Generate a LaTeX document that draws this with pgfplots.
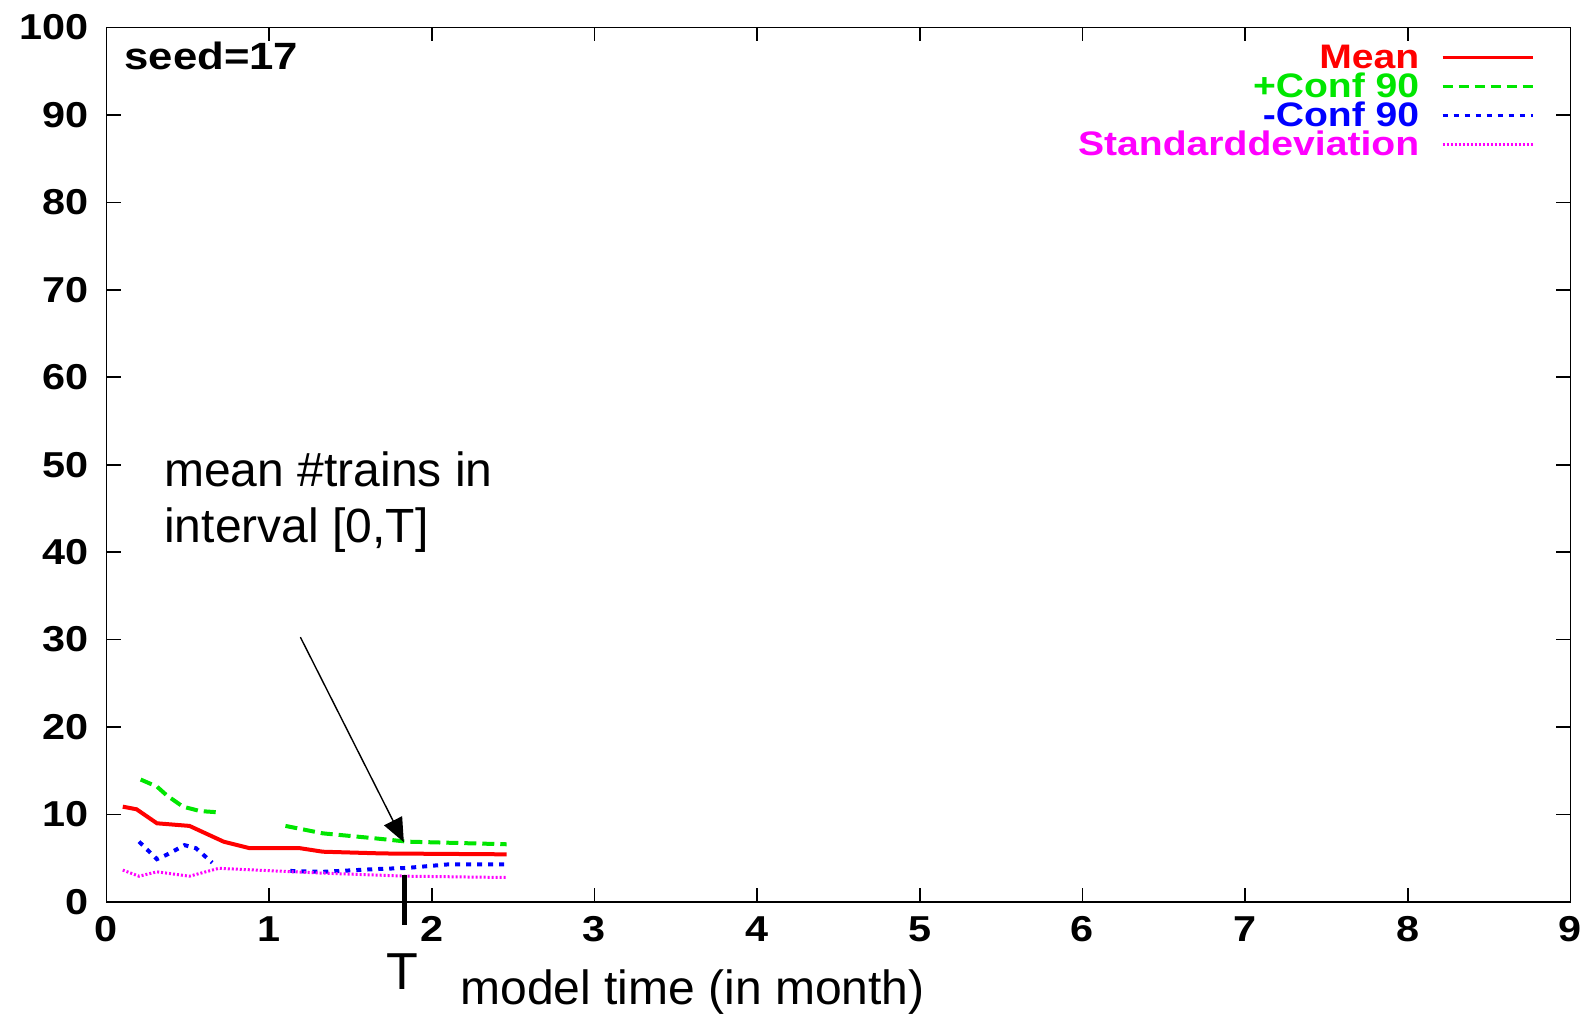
\documentclass[border=0pt]{standalone}
\usepackage{fontspec}
\setmainfont{Liberation Sans}
\newfontfamily\gpfont[FakeStretch=1.15]{Liberation Sans}
\usepackage{pgfplots}
\pgfplotsset{compat=1.18}
\usetikzlibrary{arrows.meta}

\definecolor{gpred}{RGB}{255,0,0}
\definecolor{gpgreen}{RGB}{0,230,0}
\definecolor{gpblue}{RGB}{0,0,255}
\definecolor{gpmagenta}{RGB}{255,0,255}

\newcommand{\gpfnt}{\gpfont\bfseries\fontsize{18}{18}\selectfont}
\newcommand{\legfnt}{\gpfont\bfseries\fontsize{17}{17}\selectfont}

\begin{document}
\begin{tikzpicture}
\path[use as bounding box] (-53.25pt,-55.5pt) rectangle (742.25pt,451pt);
\begin{axis}[
  scale only axis,
  width=732pt, height=437.3pt,
  xmin=0, xmax=9, ymin=0, ymax=100,
  xtick={0,1,...,9},
  ytick={0,10,...,100},
  tick align=inside,
  major tick length=7pt,
  axis line style={line width=0.8pt},
  every tick/.style={black, line width=0.8pt},
  /pgf/number format/assume math mode=true,
  tick label style={font=\gpfnt, inner sep=0pt},
  x tick label style={anchor=north, yshift=-7pt},
  y tick label style={anchor=east, xshift=-8.7pt},
  clip=false,
  unbounded coords=jump,
  legend cell align=right,
  legend plot pos=right,
  legend style={draw=none, fill=none, at={(0.9755,0.9870)}, anchor=north east,
    inner sep=0pt, column sep=11pt, row sep=0pt, font=\legfnt,
    nodes={inner sep=0pt, text height=14.5pt, text depth=0pt}},
]
\addplot[gpred, line width=2pt,
  legend image code/.code={\draw[gpred, line width=1.5pt] (0pt,-2pt) -- (45pt,-2pt);}]
  coordinates {
  (0.10,10.9) (0.185,10.6) (0.31,9.0) (0.51,8.7) (0.72,6.9) (0.88,6.15)
  (1.19,6.15) (1.33,5.75) (1.70,5.55) (2.46,5.45)
};
\addlegendentry{\textcolor{gpred}{Mean}}
\addplot[gpgreen, line width=2pt, dash pattern=on 6pt off 3pt,
  legend image code/.code={\draw[gpgreen, line width=1.5pt, dash pattern=on 5pt off 3pt] (0pt,-2pt) -- (45pt,-2pt);}]
  coordinates {
  (0.21,14.0) (0.31,13.2) (0.37,12.2) (0.47,10.9) (0.575,10.4) (0.69,10.25)
  (0.9,nan)
  (1.10,8.7) (1.33,7.85) (1.64,7.3) (1.85,6.9) (2.46,6.6)
};
\addlegendentry{\textcolor{gpgreen}{+Conf 90}}
\addplot[gpblue, line width=2pt, dash pattern=on 2.5pt off 3pt,
  legend image code/.code={\draw[gpblue, line width=1.5pt, dash pattern=on 2.5pt off 3pt] (0pt,-2pt) -- (45pt,-2pt);}]
  coordinates {
  (0.20,6.9) (0.31,4.9) (0.37,5.4) (0.48,6.5) (0.55,6.15) (0.65,4.5)
  (0.9,nan)
  (1.13,3.55) (1.33,3.45) (1.64,3.75) (1.85,3.9) (2.1,4.3) (2.46,4.3)
};
\addlegendentry{\textcolor{gpblue}{-Conf 90}}
\addplot[gpmagenta, line width=1.5pt, dash pattern=on 1pt off 1pt,
  legend image code/.code={\draw[gpmagenta, line width=1.5pt, dash pattern=on 1pt off 1pt] (0pt,-2pt) -- (45pt,-2pt);}]
  coordinates {
  (0.10,3.65) (0.20,2.95) (0.31,3.45) (0.51,2.95) (0.69,3.85) (0.92,3.65)
  (1.33,3.3) (1.85,2.95) (2.46,2.8)
};
\addlegendentry{\textcolor{gpmagenta}{Standarddeviation}}

% annotations
\node[anchor=base west, inner sep=0pt, font=\gpfont\bfseries\fontsize{19}{19}\selectfont]
  at (axis description cs:0.012,0.9524) {seed=17};
\node[anchor=base west, inner sep=0pt, align=left, font=\fontsize{24}{28}\selectfont]
  at (axis cs:0.353,41.05) {mean \#trains in\\interval [0,T]};
\draw[-{Triangle[length=12pt,width=10pt]}, line width=0.7pt]
  (axis cs:1.192,30.28) -- (axis cs:1.828,6.84);
\draw[line width=2.5pt] (axis cs:1.829,3.13) -- (axis cs:1.829,-2.68);
\node[anchor=base, inner sep=0pt, font=\fontsize{26}{26}\selectfont]
  at (axis cs:1.822,-9.95) {T};
\node[anchor=base west, inner sep=0pt, font=\fontsize{24}{24}\selectfont]
  at (axis cs:2.173,-11.72) {model time (in month)};
\end{axis}
\end{tikzpicture}
\end{document}
